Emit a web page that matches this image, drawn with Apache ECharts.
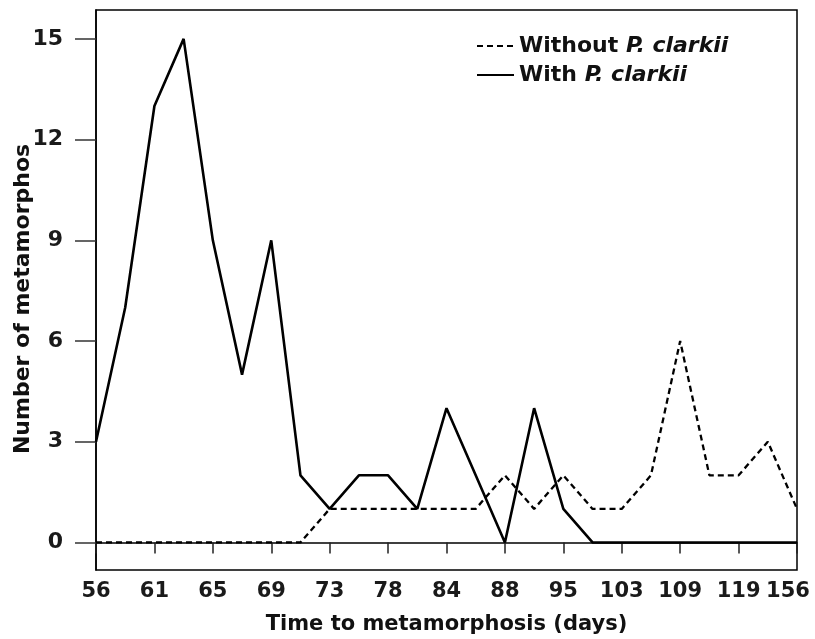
<!DOCTYPE html>
<html>
<head>
<meta charset="utf-8">
<script src="https://cdn.jsdelivr.net/npm/echarts@6/dist/echarts.min.js"></script>
<style>html,body{margin:0;padding:0;background:#fff;overflow:hidden}#c{width:815px;height:639px}</style>
</head>
<body>
<div id="c"></div>
<script>
// Tick labels shown on the x axis (every other category)
var tickLabels = ['56','61','65','69','73','78','84','88','95','103','109','119','156'];
// 25 categories: labelled ones at even positions, unlabelled in between
var categories = [];
for (var i = 0; i < tickLabels.length; i++) {
  categories.push(tickLabels[i]);
  if (i < tickLabels.length - 1) categories.push('');
}
var withoutClarkii = [0,0,0,0,0,0,0,0,1,1,1,1,1,1,2,1,2,1,1,2,6,2,2,3,1];
var withClarkii    = [3,7,13,15,9,5,9,2,1,2,2,1,4,2,0,4,1,0,0,0,0,0,0,0,0];
var yTicks = [0,3,6,9,12,15];

var FONT = '"DejaVu Sans", "Liberation Sans", Arial, sans-serif';
var lastLabel = tickLabels[tickLabels.length - 1];
var chart = echarts.init(document.getElementById('c'), null, {renderer:'canvas'});
chart.setOption({
  animation: false,
  backgroundColor: '#fff',
  grid: {left: 96, top: 10, right: 18, bottom: 69, show: true, borderColor: '#000', borderWidth: 1.5,
         outerBoundsMode: 'none', containLabel: false},
  legend: {
    orient: 'vertical', left: 476, top: 35, padding: 0, itemWidth: 37, itemHeight: 14, itemGap: 7,
    itemStyle: {opacity: 0},
    data: ['Without P. clarkii', 'With P. clarkii'],
    formatter: function (n) { return n.indexOf('Without') === 0 ? '{a|Without }{b|P. clarkii}' : '{a|With }{b|P. clarkii}'; },
    textStyle: {
      color: '#111',
      rich: {
        a: {fontFamily: FONT, fontWeight: 'bold', fontSize: 22, color: '#111'},
        b: {fontFamily: FONT, fontWeight: 'bold', fontStyle: 'italic', fontSize: 22, color: '#111'}
      }
    }
  },
  xAxis: {
    type: 'category', data: categories, boundaryGap: false,
    axisLine: {lineStyle: {color: '#000', width: 1.5}},
    axisTick: {interval: 1, length: 11, lineStyle: {color: '#222', width: 1.5}},
    axisLabel: {interval: 1, margin: 11, fontFamily: FONT, fontWeight: 'bold', fontSize: 21, color: '#1a1a1a',
      formatter: function (v) { return v === lastLabel ? '{last|' + v + '}' : v; },
      rich: {last: {fontFamily: FONT, fontWeight: 'bold', fontSize: 21, color: '#1a1a1a', padding: [0, 18, 0, 0]}}
    },
    name: 'Time to metamorphosis (days)', nameLocation: 'middle', nameGap: 44,
    nameTextStyle: {fontFamily: FONT, fontWeight: 'bold', fontSize: 21, color: '#111'}
  },
  yAxis: {
    type: 'value', min: -0.82, max: 15.86,
    splitLine: {show: false},
    axisLine: {show: true, lineStyle: {color: '#000', width: 1.5}},
    axisTick: {show: true, customValues: yTicks, length: 21, lineStyle: {color: '#333', width: 1.5}},
    axisLabel: {customValues: yTicks, margin: 33, fontFamily: FONT, fontWeight: 'bold', fontSize: 22, color: '#1a1a1a'},
    name: 'Number of metamorphos', nameLocation: 'middle', nameGap: 62, nameRotate: 90, nameMoveOverlap: false,
    nameTextStyle: {fontFamily: FONT, fontWeight: 'bold', fontSize: 22, color: '#111', padding: [0, 18, 0, 0]}
  },
  series: [
    {name: 'Without P. clarkii', type: 'line', data: withoutClarkii, symbol: 'none', showSymbol: false,
     lineStyle: {color: '#000', width: 2.3, type: [6,4]}, itemStyle: {color: '#000'}},
    {name: 'With P. clarkii', type: 'line', data: withClarkii, symbol: 'none', showSymbol: false,
     lineStyle: {color: '#000', width: 2.6, type: 'solid'}, itemStyle: {color: '#000'}}
  ]
});
</script>
</body>
</html>
